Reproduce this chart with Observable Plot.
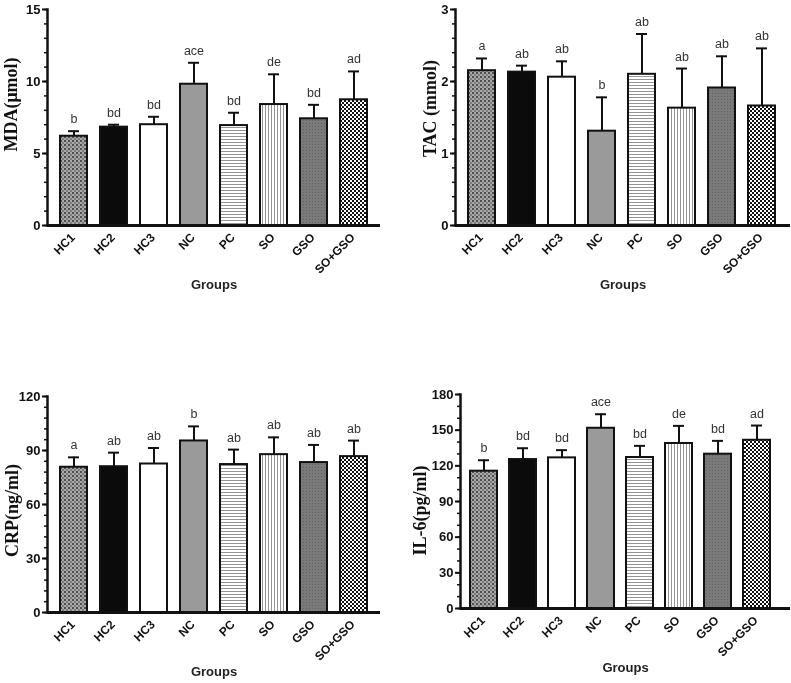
<!DOCTYPE html>
<html>
<head>
<meta charset="utf-8">
<script src="https://cdn.jsdelivr.net/npm/d3@7"></script>
<script src="https://cdn.jsdelivr.net/npm/@observablehq/plot@0.6"></script>
<style>
  html, body { margin: 0; padding: 0; background: #fff; }
  #wrap { position: relative; width: 791px; height: 683px; overflow: hidden; background: #fff; filter: grayscale(1); }
  .panel { position: absolute; }
</style>
</head>
<body>
<svg width="0" height="0" style="position:absolute">
  <defs>
    <pattern id="pHC1" width="4" height="4" patternUnits="userSpaceOnUse">
      <rect width="4" height="4" fill="#a9a9a9"/>
      <rect width="2" height="2" fill="#4e4e4e"/>
      <rect x="2" y="2" width="2" height="2" fill="#7c7c7c"/>
    </pattern>
    <pattern id="pPC" width="4" height="3" patternUnits="userSpaceOnUse">
      <rect width="4" height="3" fill="#ffffff"/>
      <rect y="1" width="4" height="1" fill="#949494"/>
    </pattern>
    <pattern id="pSO" width="3" height="4" patternUnits="userSpaceOnUse">
      <rect width="3" height="4" fill="#ffffff"/>
      <rect x="1" width="1" height="4" fill="#949494"/>
    </pattern>
    <pattern id="pGSO" width="3" height="3" patternUnits="userSpaceOnUse">
      <rect width="3" height="3" fill="#7a7a7a"/>
      <rect width="1" height="1" fill="#626262"/>
    </pattern>
    <pattern id="pSG" width="4" height="4" patternUnits="userSpaceOnUse">
      <rect width="4" height="4" fill="#ffffff"/>
      <rect width="2" height="2" fill="#111111"/>
      <rect x="2" y="2" width="2" height="2" fill="#111111"/>
    </pattern>
  </defs>
</svg>
<div id="wrap"></div>
<script>
// ---- data ----
const groups = ["HC1", "HC2", "HC3", "NC", "PC", "SO", "GSO", "SO+GSO"];

const mdaMean = [6.2, 6.83, 7.0, 9.81, 6.94, 8.4, 7.41, 8.73];
const mdaSD   = [0.35, 0.17, 0.55, 1.49, 0.89, 2.1, 0.97, 1.97];
const mdaLetters = ["b", "bd", "bd", "ace", "bd", "de", "bd", "ad"];
const mdaTicks = [0, 5, 10, 15];

const tacMean = [2.15, 2.13, 2.06, 1.31, 2.10, 1.63, 1.91, 1.66];
const tacSD   = [0.17, 0.09, 0.22, 0.47, 0.56, 0.55, 0.44, 0.80];
const tacLetters = ["a", "ab", "ab", "b", "ab", "ab", "ab", "ab"];
const tacTicks = [0, 1, 2, 3];

const crpMean = [80.7, 81.0, 82.5, 95.3, 82.2, 87.7, 83.3, 86.6];
const crpSD   = [5.5, 7.8, 8.9, 8.1, 8.3, 9.6, 9.8, 8.9];
const crpLetters = ["a", "ab", "ab", "b", "ab", "ab", "ab", "ab"];
const crpTicks = [0, 30, 60, 90, 120];

const il6Mean = [115.5, 125.3, 126.7, 151.6, 127.0, 138.8, 129.8, 141.5];
const il6SD   = [9.2, 9.5, 6.5, 11.8, 9.8, 14.8, 11.2, 12.4];
const il6Letters = ["b", "bd", "bd", "ace", "bd", "de", "bd", "ad"];
const il6Ticks = [0, 30, 60, 90, 120, 150, 180];

// ---- styles ----
const groupFills = ["url(#pHC1)", "#0b0b0b", "#ffffff", "#9a9a9a", "url(#pPC)", "url(#pSO)", "url(#pGSO)", "url(#pSG)"];

function panel(o) {
  const data = groups.map((g, i) => ({
    g, mean: o.mean[i], hi: o.mean[i] + o.sd[i], lab: o.letters[i], fill: groupFills[i]
  }));
  const yMax = o.major[o.major.length - 1];
  const minor = d3.range(0, yMax + o.minorStep / 2, o.minorStep);
  return Plot.plot({
    width: o.width, height: 300,
    marginLeft: o.ml, marginRight: o.mr, marginTop: o.mt, marginBottom: o.mb,
    style: { background: "white", fontFamily: "'Liberation Sans', Arial, sans-serif", color: "#111", overflow: "visible" },
    x: { domain: groups, range: o.xr, paddingInner: 0.32, paddingOuter: 0.25, label: null, axis: null },
    y: { domain: [0, yMax], label: null },
    color: { type: "identity" },
    marks: [
      Plot.barY(data, { x: "g", y: "mean", fill: "fill", stroke: "#111", strokeWidth: 2 }),
      Plot.ruleX(data, { x: "g", y1: "mean", y2: "hi", stroke: "#111", strokeWidth: 2 }),
      Plot.tickY(data, { x: "g", y: "hi", stroke: "#111", strokeWidth: 2, insetLeft: 8, insetRight: 8 }),
      Plot.text(data, { x: "g", y: "hi", text: "lab", dy: -8, lineAnchor: "bottom", fontSize: 12.5, fill: "#333" }),
      Plot.axisY({ ticks: minor, tickSize: 3, tickFormat: () => "", strokeWidth: 1.5, label: null }),
      Plot.axisY({ ticks: o.major, tickSize: 5, tickPadding: 2, fontSize: 13, fontWeight: "bold", strokeWidth: 2, tickFormat: d => String(d), label: null }),
      Plot.frame({ anchor: "left", stroke: "#111", strokeWidth: 2.5 }),
      Plot.ruleY([0], { stroke: "#111", strokeWidth: 3 }),
      Plot.text(groups, { x: d => d, frameAnchor: "bottom", rotate: -45, textAnchor: "end", lineAnchor: "middle",
        dx: -1, dy: 10, fontSize: 12, fontWeight: "bold", fill: "#111" }),
      Plot.text([o.yLabel], { frameAnchor: "left", rotate: -90, dx: o.ylx, dy: o.yly, textAnchor: "middle", lineAnchor: "middle",
        fontFamily: "'Liberation Serif', 'Times New Roman', serif", fontWeight: "bold", fontSize: 18, fill: "#111" }),
      Plot.text(["Groups"], { frameAnchor: "bottom", dy: 59, lineAnchor: "middle", fontSize: 13, fontWeight: "bold", fill: "#222" })
    ]
  });
}

const wrap = document.getElementById("wrap");
function place(el, left, top) {
  const d = document.createElement("div");
  d.className = "panel";
  d.style.left = left + "px";
  d.style.top = top + "px";
  d.appendChild(el);
  wrap.appendChild(d);
}

place(panel({ mean: mdaMean, sd: mdaSD, letters: mdaLetters, major: mdaTicks, minorStep: 1, yLabel: "MDA(μmol)",
  width: 395, ml: 47, mr: 15, mt: 9, mb: 75, xr: [47, 380], ylx: -36, yly: -13 }), 0, 0);
place(panel({ mean: tacMean, sd: tacSD, letters: tacLetters, major: tacTicks, minorStep: 0.2, yLabel: "TAC (mmol)",
  width: 391, ml: 55, mr: 1, mt: 9, mb: 75, xr: [55, 389], ylx: -25, yly: -9 }), 400, 0);
place(panel({ mean: crpMean, sd: crpSD, letters: crpLetters, major: crpTicks, minorStep: 6, yLabel: "CRP(ng/ml)",
  width: 395, ml: 47, mr: 15, mt: 13, mb: 71, xr: [47, 380], ylx: -35, yly: 6 }), 0, 383);
place(panel({ mean: il6Mean, sd: il6SD, letters: il6Letters, major: il6Ticks, minorStep: 10, yLabel: "IL-6(pg/ml)",
  width: 391, ml: 60, mr: 1, mt: 11, mb: 75, xr: [60, 380], ylx: -40, yly: 9 }), 400, 383);
</script>
</body>
</html>
